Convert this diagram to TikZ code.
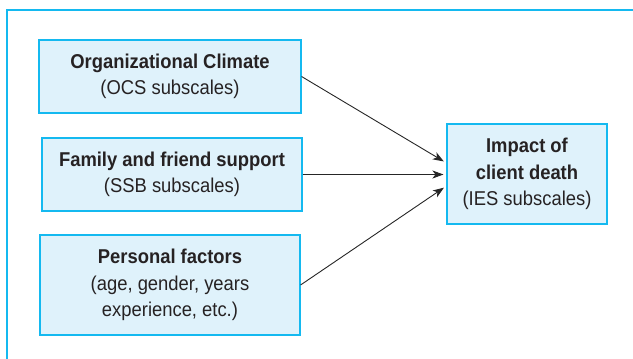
\documentclass[tikz,border=0pt]{standalone}
\usepackage{fontspec}
\setmainfont{Liberation Sans}[FakeStretch=0.92]
\usepackage{xcolor}
\usetikzlibrary{arrows.meta,positioning,calc}
\definecolor{frameblue}{RGB}{20,185,240}
\definecolor{boxfill}{RGB}{223,242,251}
\definecolor{textgray}{RGB}{38,34,35}

\tikzset{
  varbox/.style={draw=frameblue, line width=1.1pt, fill=boxfill, align=center,
    text=textgray, font=\fontsize{20}{26.5}\selectfont, inner sep=0pt},
  link/.style={line width=0.9pt, draw=black!85, -{Stealth[length=11pt,width=8pt,inset=3pt]}, shorten >=3pt}
}

\begin{document}
\begin{tikzpicture}[x=1pt,y=-1pt]
				\useasboundingbox (0,0) rectangle (633,359);
				% Draw outer frame (top and left only)
				\draw[frameblue, line width=1.3pt] (7,359) -- (7,10) -- (633,10);
				
				% Predictor boxes
				\node[varbox, minimum width=262pt, minimum height=73pt] (climate) at (170,76.5)
				  {\textbf{Organizational Climate}\\(OCS subscales)};
				\node[varbox, minimum width=260pt, minimum height=73pt] (support) at (172,174.5)
				  {\textbf{Family and friend support}\\(SSB subscales)};
				\node[varbox, minimum width=260pt, minimum height=100pt] (personal) at (170,285)
				  {\textbf{Personal factors}\\(age, gender, years\\experience, etc.)};
				
				% Outcome box
				\node[varbox, minimum width=160pt, minimum height=100pt] (impact) at (527,174)
				  {\textbf{Impact of}\\\textbf{client death}\\(IES subscales)};
				
				% Connections
				\draw[link] (climate.east) -- ([yshift=11pt]impact.west);
				\draw[link] (support.east) -- (support.east -| impact.west);
				\draw[link] (personal.east) -- ([yshift=-12pt]impact.west);
			\end{tikzpicture}
\end{document}
